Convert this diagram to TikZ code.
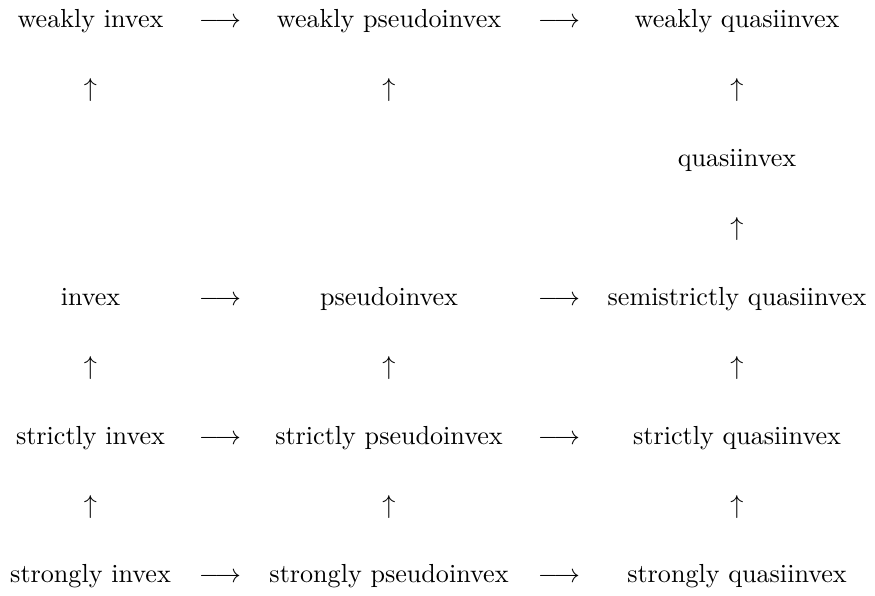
\documentclass[tikz,border=0pt]{standalone}
\usepackage{tikz}
\usetikzlibrary{positioning}

\begin{document}
\begin{tikzpicture}[x=0.01346cm, y=-0.01346cm,
    cls/.style={inner sep=0pt, anchor=base},
    arr/.style={inner sep=0pt, anchor=base}]

            \useasboundingbox (0,0) rectangle (875,595);

            % row 1
            \node[cls] (WI) at (90.5,27) {weakly invex};
            \node[cls] (WP) at (389,27) {weakly pseudoinvex};
            \node[cls] (WQ) at (737,27) {weakly quasiinvex};

            \node[cls] (Q) at (737,166) {quasiinvex};

            % row 3
            \node[cls] (I) at (90.5,305) {invex};
            \node[cls] (P) at (389,305) {pseudoinvex};
            \node[cls] (SQ) at (737,305) {semistrictly quasiinvex};

            % row 4
            \node[cls] (StI) at (90.5,444) {strictly invex};
            \node[cls] (StP) at (389,444) {strictly pseudoinvex};
            \node[cls] (StQ) at (737,444) {strictly quasiinvex};

            % row 5
            \node[cls] (SgI) at (90.5,582) {strongly invex};
            \node[cls] (SgP) at (389,582) {strongly pseudoinvex};
            \node[cls] (SgQ) at (737,582) {strongly quasiinvex};

            % horizontal arrows
            \foreach \y/\n in {27/a, 305/b, 444/c, 582/d} {
                \node[arr] (h1\n) at (220,\y) {$\longrightarrow$};
                \node[arr] (h2\n) at (559,\y) {$\longrightarrow$};
            }

            % vertical arrows
            \node[arr] (vWI) at (90.5,96.4) {$\uparrow$}; %I to WI
            \node[arr] (vWP) at (389,96.4) {$\uparrow$}; %P to WP
            \node[arr] (vWQ) at (737,96.4) {$\uparrow$}; %Q to WQ
            \node[arr] (vQ) at (737,235.5) {$\uparrow$}; %SQ to Q
            \foreach \x/\n in {90.5/I, 389/P, 737/Q} {
                \node[arr] (v1\n) at (\x,374.5) {$\uparrow$};
                \node[arr] (v2\n) at (\x,513.5) {$\uparrow$};
            }

\end{tikzpicture}
\end{document}
